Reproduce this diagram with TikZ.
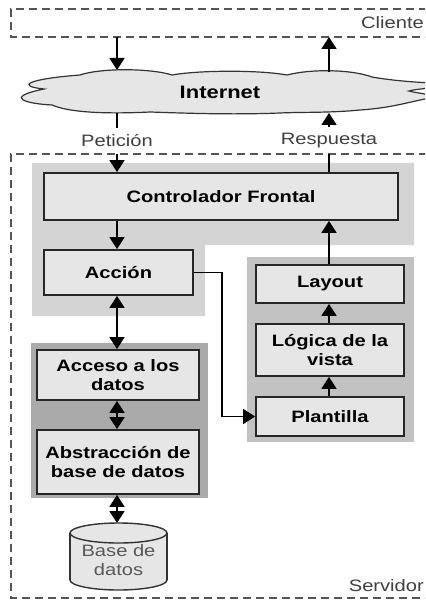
\documentclass[tikz,border=0pt]{standalone}
\usepackage{fontspec}
\setmainfont{Liberation Sans}[FakeStretch=1.22]
\usetikzlibrary{arrows.meta}
\definecolor{boxfill}{HTML}{E6E6E6}
\definecolor{lightreg}{HTML}{D4D4D4}
\definecolor{rpanel}{HTML}{C2C2C2}
\definecolor{lpanel}{HTML}{AAAAAA}
\definecolor{dashgray}{HTML}{555555}
\definecolor{txtgray}{HTML}{404040}
\tikzset{
  box/.style={draw=black!85, line width=1.8pt, fill=boxfill, align=center, inner sep=0pt,
    font=\fontsize{16.5}{18.5}\selectfont\bfseries},
  lbl/.style={text=txtgray, inner sep=0pt, font=\fontsize{16.5}{18.5}\selectfont},
  arr/.style={line width=1.7pt, -{Triangle[length=12pt,width=15pt]}},
  darr/.style={line width=1.7pt, {Triangle[length=12pt,width=15pt]}-{Triangle[length=12pt,width=15pt]}},
  plain/.style={line width=1.7pt},
  zone/.style={draw=dashgray, line width=1.4pt, dash pattern=on 8pt off 5pt},
}
\begin{document}
\begin{tikzpicture}[x=1pt,y=-1pt]
\clip (0,0) rectangle (425,601);
\fill[white] (0,0) rectangle (425,601);

% zones
\draw[zone] (440,9) -- (11,9) -- (11,37) -- (440,37);
\draw[zone] (440,154) -- (11,154) -- (11,598) -- (440,598);
\node[lbl, anchor=east] (cliente) at (424,23) {Cliente};
\node[lbl, anchor=east] (servidor) at (424,586) {Servidor};

% cloud
\draw[fill=boxfill, draw=black!80, line width=1.2pt]
  (80,75) .. controls (100,68) and (150,68) .. (172,75)
  .. controls (200,70) and (260,70) .. (287,75)
  .. controls (310,69) and (350,69) .. (372,77)
  .. controls (395,81) and (415,82) .. (430,83)
  .. controls (440,84) and (440,87) .. (430,88)
  .. controls (420,89) and (412,90) .. (409,91)
  .. controls (412,92) and (420,93) .. (430,95)
  .. controls (440,97) and (440,100) .. (425,99)
  .. controls (405,103) and (390,108) .. (360,110)
  .. controls (330,113) and (300,112) .. (280,113)
  .. controls (230,115) and (180,113) .. (150,112)
  .. controls (110,114) and (70,113) .. (52,105)
  .. controls (30,104) and (0,98) .. (44,89)
  .. controls (15,86) and (28,79) .. (80,75) -- cycle;
\node[font=\fontsize{18}{20}\selectfont\bfseries, inner sep=0pt] (internet) at (220,92) {Internet};
\coordinate (ctop1) at (117,70);
\coordinate (ctop2) at (329,72);
\coordinate (cbot1) at (117,113);
\coordinate (cbot2) at (329,113);
\coordinate (cl1) at (117,37);
\coordinate (cl2) at (329,37);

% panels
\fill[lightreg] (32,163) -- (414,163) -- (414,245) -- (205,245) -- (205,316) -- (32,316) -- cycle;
\fill[rpanel] (247,257) rectangle (414,442);
\fill[lpanel] (31,343) rectangle (208,498);

% boxes
\node[box, minimum width=354pt, minimum height=47pt] (ctrl) at (221,196.5) {Controlador Frontal};
\node[box, minimum width=149pt, minimum height=45pt] (accion) at (118.5,272.5) {Acción};
\node[box, minimum width=148pt, minimum height=38pt] (layout) at (330,284) {Layout};
\node[box, minimum width=148pt, minimum height=52pt] (logica) at (330,350) {Lógica de la\\vista};
\node[box, minimum width=148pt, minimum height=39pt] (plantilla) at (330,416.5) {Plantilla};
\node[box, minimum width=162pt, minimum height=50pt] (acceso) at (118,375) {Acceso a los\\datos};
\node[box, minimum width=162pt, minimum height=64pt] (abstr) at (118,462) {Abstracción de\\base de datos};

% database cylinder
\begin{scope}[fill=boxfill, draw=black!80, line width=1.4pt]
\filldraw (118.5,580) ellipse (48.5 and 10);
\fill (70,533) rectangle (167,580);
\draw (70,533) -- (70,580) (167,533) -- (167,580);
\filldraw (118.5,533) ellipse (48.5 and 10);
\end{scope}
\node[lbl, text=black!65, align=center, minimum width=97pt, minimum height=67pt] (db) at (118.5,560) {Base de\\datos};
\coordinate (dbtop) at (117,523);

% labels
\node[lbl, fill=white, inner sep=1pt] (peticion) at (117,141) {Petición};
\node[lbl, fill=white, inner sep=1pt] (respuesta) at (329,141) {Respuesta};

% connectors
\draw[arr] (cl1) -- (ctop1);
\draw[arr] (ctop2) -- (cl2);
\draw[plain] (cbot1) -- (117,128);
\draw[arr] (117,154) -- (ctrl.north -| cbot1);
\draw[arr] (329,127) -- (cbot2);
\draw[plain] (ctrl.north -| cbot2) -- (329,154);
\draw[arr] (ctrl.south -| cbot1) -- (accion.north -| cbot1);
\draw[arr] (layout.north -| cbot2) -- (ctrl.south -| cbot2);
\draw[arr] (logica.north -| cbot2) -- (layout.south -| cbot2);
\draw[arr] (plantilla.north -| cbot2) -- (logica.south -| cbot2);
\draw[arr] (accion.east) -- (222,272.5) -- (222,416.5) -- (plantilla.west);
\draw[darr] (accion.south -| cbot1) -- (acceso.north -| cbot1);
\draw[darr] (acceso.south -| cbot1) -- (abstr.north -| cbot1);
\draw[darr] (abstr.south -| cbot1) -- (dbtop);
\end{tikzpicture}
\end{document}
